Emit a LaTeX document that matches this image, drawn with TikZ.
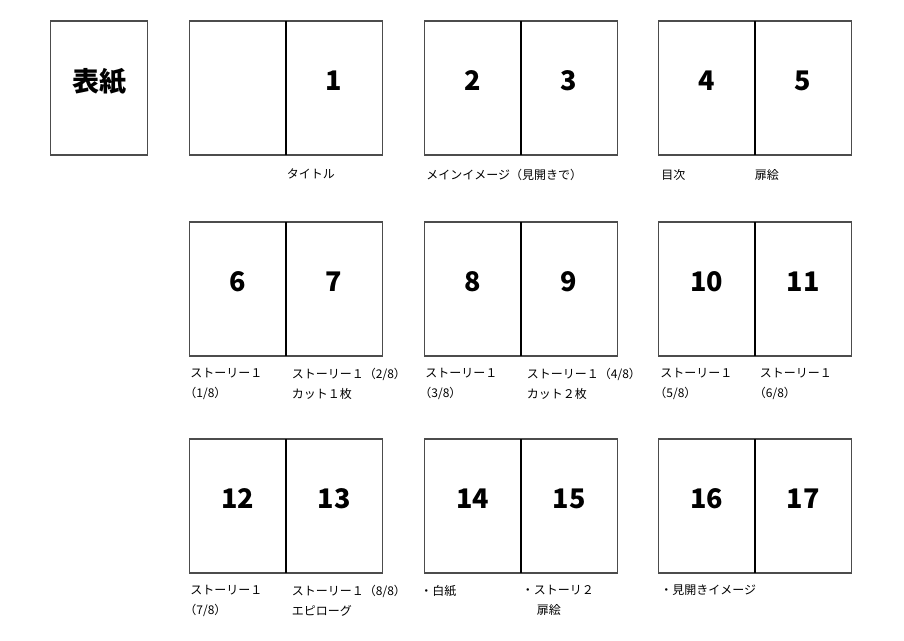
\documentclass[tikz,border=0pt]{standalone}
\usepackage{fontspec}
\setmainfont{Noto Sans CJK JP}
\usetikzlibrary{positioning}

\begin{document}
\begin{tikzpicture}[
    x=1pt,
    y=-1pt,
    node distance=42pt,
    page/.style={
        rectangle,
        draw=black!70,
        line width=1.2pt,
        minimum width=96.5pt,
        minimum height=134pt,
        inner sep=0pt,
        outer sep=0pt
    },
    pagenum/.style={
        font=\fontsize{27}{27}\selectfont\bfseries,
        inner sep=0pt,
        yshift=7pt
    },
    fold/.style={
        draw=black,
        line width=2pt
    },
    note/.style={
        font=\fontsize{12}{20}\selectfont,
        align=left,
        inner sep=0pt
    }
]
\useasboundingbox (0,0) rectangle (904,640);

% Cover
\node [page] (cover) at (99,88) {};
\node [pagenum, yshift=-1pt] (covertitle) at (cover) {表紙};

% Pages, row 1
\node [page, right=of cover] (p0) {};
\node [page, right=0pt of p0] (p1) {};
\node [page, right=of p1] (p2) {};
\node [page, right=0pt of p2] (p3) {};
\node [page, right=41pt of p3] (p4) {};
\node [page, right=0pt of p4] (p5) {};

% Pages, row 2
\node [page, below=67pt of p0] (p6) {};
\node [page, right=0pt of p6] (p7) {};
\node [page, right=of p7] (p8) {};
\node [page, right=0pt of p8] (p9) {};
\node [page, right=41pt of p9] (p10) {};
\node [page, right=0pt of p10] (p11) {};

% Pages, row 3
\node [page, below=83pt of p6] (p12) {};
\node [page, right=0pt of p12] (p13) {};
\node [page, right=of p13] (p14) {};
\node [page, right=0pt of p14] (p15) {};
\node [page, right=41pt of p15] (p16) {};
\node [page, right=0pt of p16] (p17) {};

% Folds between facing pages
\draw [fold] (p1.north west) -- (p1.south west);
\draw [fold] (p3.north west) -- (p3.south west);
\draw [fold] (p5.north west) -- (p5.south west);
\draw [fold] (p7.north west) -- (p7.south west);
\draw [fold] (p9.north west) -- (p9.south west);
\draw [fold] (p11.north west) -- (p11.south west);
\draw [fold] (p13.north west) -- (p13.south west);
\draw [fold] (p15.north west) -- (p15.south west);
\draw [fold] (p17.north west) -- (p17.south west);

% Page numbers
\node [pagenum] (n1) at (p1) {1};
\node [pagenum] (n2) at (p2) {2};
\node [pagenum] (n3) at (p3) {3};
\node [pagenum] (n4) at (p4) {4};
\node [pagenum] (n5) at (p5) {5};
\node [pagenum] (n6) at (p6) {6};
\node [pagenum] (n7) at (p7) {7};
\node [pagenum] (n8) at (p8) {8};
\node [pagenum] (n9) at (p9) {9};
\node [pagenum] (n10) at (p10) {10};
\node [pagenum] (n11) at (p11) {11};
\node [pagenum] (n12) at (p12) {12};
\node [pagenum] (n13) at (p13) {13};
\node [pagenum] (n14) at (p14) {14};
\node [pagenum] (n15) at (p15) {15};
\node [pagenum] (n16) at (p16) {16};
\node [pagenum] (n17) at (p17) {17};

% Notes, row 1
\node [note, below right=14pt and 1pt of p1.south west] (t1) {タイトル};
\node [note, below right=14pt and 2pt of p2.south west] (t2) {メインイメージ（見開きで）};
\node [note, below right=14pt and 3pt of p4.south west] (t4) {目次};
\node [note, below right=14pt and 0pt of p5.south west] (t5) {扉絵};

% Notes, row 2
\node [note, below right=12pt and 1pt of p6.south west] (t6) {ストーリー１\\\hspace*{-0.5em}（1/8）};
\node [note, below right=12pt and 6pt of p7.south west] (t7) {ストーリー１（2/8）\\カット１枚};
\node [note, below right=12pt and 1pt of p8.south west] (t8) {ストーリー１\\\hspace*{-0.5em}（3/8）};
\node [note, below right=12pt and 6pt of p9.south west] (t9) {ストーリー１（4/8）\\カット２枚};
\node [note, below right=12pt and 2pt of p10.south west] (t10) {ストーリー１\\\hspace*{-0.5em}（5/8）};
\node [note, below right=12pt and 5pt of p11.south west] (t11) {ストーリー１\\\hspace*{-0.5em}（6/8）};

% Notes, row 3
\node [note, below right=12pt and 1pt of p12.south west] (t12) {ストーリー１\\\hspace*{-0.5em}（7/8）};
\node [note, below right=12pt and 6pt of p13.south west] (t13) {ストーリー１（8/8）\\エピローグ};
\node [note, below right=12pt and -4pt of p14.south west] (t14) {・白紙};
\node [note, below right=12pt and 1pt of p15.south west] (t15) {・ストーリ２\\\hspace*{3pt}　扉絵};
\node [note, below right=12pt and 2pt of p16.south west] (t16) {・見開きイメージ};

\end{tikzpicture}
\end{document}
